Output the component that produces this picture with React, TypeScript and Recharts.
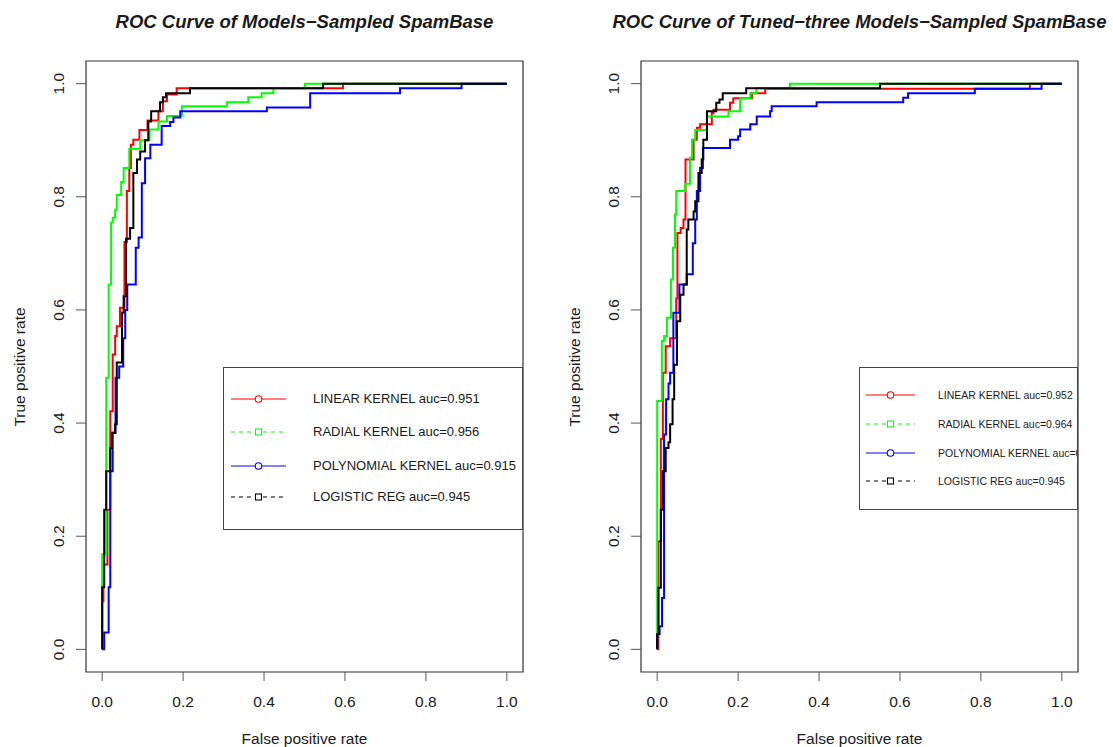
import React from 'react';
import { LineChart, Line, XAxis, YAxis, ReferenceArea } from 'recharts';

// ---------- data ----------
const TICKS = [0, 0.2, 0.4, 0.6, 0.8, 1.0];
const SERIES_NAMES = ['LINEAR KERNEL', 'RADIAL KERNEL', 'POLYNOMIAL KERNEL', 'LOGISTIC REG'];
const SERIES_COLORS = ['#ff0000', '#00ff00', '#0000ff', '#000000'];
const AUC_A = ['0.951', '0.956', '0.915', '0.945'];
const AUC_B = ['0.952', '0.964', '0.936', '0.945'];
const TITLE_A = 'ROC Curve of Models\u2212Sampled SpamBase';
const TITLE_B = 'ROC Curve of Tuned\u2212three Models\u2212Sampled SpamBase';
const X_LABEL = 'False positive rate';
const Y_LABEL = 'True positive rate';

// Panel A (Models - Sampled SpamBase)
const linearFprA = [0, 0, 0.003, 0.013, 0.02, 0.026, 0.032, 0.036, 0.044, 0.055, 0.061, 0.067, 0.071, 0.077, 0.092, 0.112, 0.139, 0.15, 0.16, 0.184, 0.595, 1];
const linearTprA = [0, 0.085, 0.15, 0.247, 0.421, 0.521, 0.554, 0.571, 0.604, 0.72, 0.81, 0.851, 0.892, 0.901, 0.918, 0.935, 0.951, 0.969, 0.981, 0.992, 1, 1];
const radialFprA = [0, 0, 0.01, 0.016, 0.022, 0.026, 0.032, 0.036, 0.047, 0.053, 0.067, 0.094, 0.117, 0.139, 0.16, 0.197, 0.308, 0.361, 0.394, 0.423, 0.501, 1];
const radialTprA = [0, 0.168, 0.48, 0.645, 0.754, 0.763, 0.777, 0.803, 0.826, 0.851, 0.885, 0.9, 0.919, 0.933, 0.943, 0.96, 0.967, 0.976, 0.983, 0.992, 1, 1];
const polyFprA = [0, 0.005, 0.016, 0.02, 0.026, 0.033, 0.042, 0.052, 0.057, 0.062, 0.083, 0.09, 0.098, 0.106, 0.119, 0.147, 0.168, 0.176, 0.193, 0.407, 0.514, 0.736, 0.888, 1];
const polyTprA = [0, 0.03, 0.11, 0.315, 0.383, 0.48, 0.5, 0.55, 0.6, 0.645, 0.71, 0.728, 0.824, 0.868, 0.892, 0.925, 0.932, 0.94, 0.951, 0.958, 0.983, 0.992, 1, 1];
const logitFprA = [0, 0, 0.005, 0.01, 0.02, 0.024, 0.032, 0.036, 0.049, 0.053, 0.059, 0.069, 0.077, 0.086, 0.094, 0.106, 0.114, 0.121, 0.143, 0.15, 0.158, 0.217, 0.546, 1];
const logitTprA = [0, 0.11, 0.247, 0.315, 0.356, 0.383, 0.398, 0.507, 0.595, 0.624, 0.726, 0.745, 0.842, 0.866, 0.88, 0.9, 0.933, 0.951, 0.967, 0.976, 0.983, 0.992, 1, 1];

// Panel B (Tuned-three Models - Sampled SpamBase)
const linearFprB = [0, 0.003, 0.009, 0.014, 0.021, 0.032, 0.047, 0.05, 0.058, 0.065, 0.07, 0.09, 0.098, 0.106, 0.135, 0.139, 0.18, 0.188, 0.234, 0.267, 0.921, 1];
const linearTprB = [0, 0.191, 0.372, 0.489, 0.536, 0.55, 0.62, 0.736, 0.745, 0.76, 0.866, 0.901, 0.922, 0.928, 0.948, 0.954, 0.966, 0.974, 0.983, 0.991, 1, 1];
const radialFprB = [0, 0, 0.0115, 0.017, 0.024, 0.034, 0.039, 0.044, 0.047, 0.069, 0.081, 0.086, 0.094, 0.123, 0.176, 0.205, 0.23, 0.245, 0.328, 1];
const radialTprB = [0, 0.439, 0.545, 0.554, 0.586, 0.654, 0.71, 0.769, 0.81, 0.823, 0.869, 0.901, 0.918, 0.942, 0.951, 0.974, 0.983, 0.992, 1, 1];
const polyFprB = [0, 0, 0.006, 0.012, 0.017, 0.022, 0.028, 0.032, 0.04, 0.055, 0.073, 0.088, 0.094, 0.098, 0.106, 0.113, 0.18, 0.2, 0.205, 0.23, 0.246, 0.279, 0.283, 0.394, 0.608, 0.62, 0.785, 0.95, 1];
const polyTprB = [0, 0.027, 0.041, 0.091, 0.38, 0.442, 0.47, 0.489, 0.595, 0.645, 0.663, 0.718, 0.76, 0.81, 0.851, 0.886, 0.901, 0.907, 0.919, 0.928, 0.942, 0.951, 0.96, 0.967, 0.975, 0.983, 0.991, 1, 1];
const logitFprB = [0, 0, 0.003, 0.009, 0.014, 0.021, 0.028, 0.032, 0.038, 0.042, 0.049, 0.057, 0.065, 0.073, 0.077, 0.09, 0.094, 0.102, 0.11, 0.114, 0.123, 0.146, 0.154, 0.162, 0.22, 0.551, 1];
const logitTprB = [0, 0.027, 0.109, 0.247, 0.315, 0.356, 0.366, 0.398, 0.442, 0.503, 0.58, 0.627, 0.645, 0.742, 0.76, 0.774, 0.792, 0.842, 0.866, 0.901, 0.951, 0.966, 0.972, 0.983, 0.992, 1, 1];

const zip = (xs: number[], ys: number[]) => xs.slice(0, Math.min(xs.length, ys.length)).map((x, i) => ({ x, y: ys[i] }));

const SERIES_A = [zip(linearFprA, linearTprA), zip(radialFprA, radialTprA), zip(polyFprA, polyTprA), zip(logitFprA, logitTprA)];
const SERIES_B = [zip(linearFprB, linearTprB), zip(radialFprB, radialTprB), zip(polyFprB, polyTprB), zip(logitFprB, logitTprB)];

// ---------- styling ----------
const FONT = '"Liberation Sans", Arial, Helvetica, sans-serif';
const TEXT_COLOR = '#1a1a1a';
const DOMAIN: [number, number] = [-0.04, 1.04];
const LEGEND_DASH = ['', '4 4', '', '4 4'];
const LEGEND_MARK = ['circle', 'square', 'circle', 'square'];

const XTick = (props: any) => {
  const { x, y, payload } = props;
  return (
    <text x={x} y={y + 24} textAnchor="middle" fontFamily={FONT} fontSize={15.5} fill={TEXT_COLOR}>
      {Number(payload.value).toFixed(1)}
    </text>
  );
};

const YTick = (props: any) => {
  const { y, payload } = props;
  return (
    <text transform={`translate(64, ${y}) rotate(-90)`} textAnchor="middle" fontFamily={FONT} fontSize={15.5} fill={TEXT_COLOR}>
      {Number(payload.value).toFixed(1)}
    </text>
  );
};

type LegendCfg = {
  left: number; top: number; width: number; height: number;
  rows: number[]; lineX0: number; lineX1: number; textX: number; fontSize: number;
};

const LegendBox = ({ cfg, aucs }: { cfg: LegendCfg; aucs: string[] }) => {
  const mid = (cfg.lineX0 + cfg.lineX1) / 2;
  return (
    <div style={{
      position: 'absolute', left: cfg.left, top: cfg.top, width: cfg.width, height: cfg.height,
      border: '1.3px solid #444', boxSizing: 'border-box', background: '#fff', overflow: 'hidden',
    }}>
      <svg width={cfg.width} height={cfg.height} style={{ position: 'absolute', left: -1, top: -1 }}>
        {SERIES_NAMES.map((n, i) => (
          <g key={n}>
            <line x1={cfg.lineX0} x2={cfg.lineX1} y1={cfg.rows[i]} y2={cfg.rows[i]}
              stroke={SERIES_COLORS[i]} strokeWidth={1.1} strokeDasharray={LEGEND_DASH[i] || undefined} />
            {LEGEND_MARK[i] === 'circle' ? (
              <circle cx={mid} cy={cfg.rows[i]} r={3.3} fill="#fff" stroke={SERIES_COLORS[i]} strokeWidth={1.1} />
            ) : (
              <rect x={mid - 3} y={cfg.rows[i] - 3} width={6} height={6} fill="#fff" stroke={SERIES_COLORS[i]} strokeWidth={1.1} />
            )}
          </g>
        ))}
      </svg>
      {SERIES_NAMES.map((n, i) => (
        <div key={n} style={{
          position: 'absolute', left: cfg.textX - 1, top: cfg.rows[i] - 1 - cfg.fontSize * 0.6,
          fontFamily: FONT, fontSize: cfg.fontSize, lineHeight: `${cfg.fontSize * 1.2}px`,
          color: TEXT_COLOR, whiteSpace: 'nowrap',
        }}>
          {`${n} auc=${aucs[i]}`}
        </div>
      ))}
    </div>
  );
};

const LEGEND_A: LegendCfg = { left: 223, top: 367, width: 300, height: 163, rows: [32, 65, 99, 130], lineX0: 8, lineX1: 63, textX: 90, fontSize: 13 };
const LEGEND_B: LegendCfg = { left: 304, top: 367, width: 219, height: 143, rows: [28, 57, 86, 114], lineX0: 7, lineX1: 56, textX: 79, fontSize: 10.5 };

const Panel = ({ offsetX, title, series, aucs, legend }: any) => (
  <div style={{ position: 'absolute', left: offsetX, top: 0, width: 556, height: 747 }}>
    <LineChart width={556} height={747} margin={{ top: 61, right: 33, bottom: 35, left: 26 }}>
      <XAxis type="number" dataKey="x" domain={DOMAIN} ticks={TICKS} allowDataOverflow height={40}
        interval={0} tickSize={9} tickLine={{ stroke: '#555' }} axisLine={false} tick={<XTick />} />
      <YAxis type="number" domain={DOMAIN} ticks={TICKS} allowDataOverflow width={60}
        interval={0} tickSize={10} tickLine={{ stroke: '#555' }} axisLine={false} tick={<YTick />} />
      <ReferenceArea x1={DOMAIN[0]} x2={DOMAIN[1]} y1={DOMAIN[0]} y2={DOMAIN[1]} fill="none" fillOpacity={0}
        stroke="#333" strokeWidth={1.2} ifOverflow="visible" />
      {series.map((data: any[], i: number) => (
        <Line key={SERIES_NAMES[i]} data={data} dataKey="y" type="stepAfter" stroke={SERIES_COLORS[i]}
          strokeWidth={2} dot={false} activeDot={false} isAnimationActive={false} />
      ))}
    </LineChart>
    <div style={{
      position: 'absolute', left: 86 - 200, width: 837, top: 11, textAlign: 'center', fontFamily: FONT,
      fontSize: 18.5, fontWeight: 'bold', fontStyle: 'italic', lineHeight: '22px', color: TEXT_COLOR, whiteSpace: 'nowrap',
    }}>{title}</div>
    <div style={{
      position: 'absolute', left: 86, width: 437, top: 730, textAlign: 'center', fontFamily: FONT,
      fontSize: 15.5, lineHeight: '18px', color: TEXT_COLOR,
    }}>{X_LABEL}</div>
    <div style={{
      position: 'absolute', left: 20 - 150, width: 300, top: 367 - 9, textAlign: 'center', fontFamily: FONT,
      fontSize: 15.5, lineHeight: '18px', color: TEXT_COLOR, transform: 'rotate(-90deg)',
    }}>{Y_LABEL}</div>
    <LegendBox cfg={legend} aucs={aucs} />
  </div>
);

export default function App() {
  return (
    <div style={{ position: 'absolute', left: 0, top: 0, width: 1113, height: 747, background: '#fff', overflow: 'hidden' }}>
      <Panel offsetX={0} title={TITLE_A} series={SERIES_A} aucs={AUC_A} legend={LEGEND_A} />
      <Panel offsetX={555} title={TITLE_B} series={SERIES_B} aucs={AUC_B} legend={LEGEND_B} />
    </div>
  );
}
